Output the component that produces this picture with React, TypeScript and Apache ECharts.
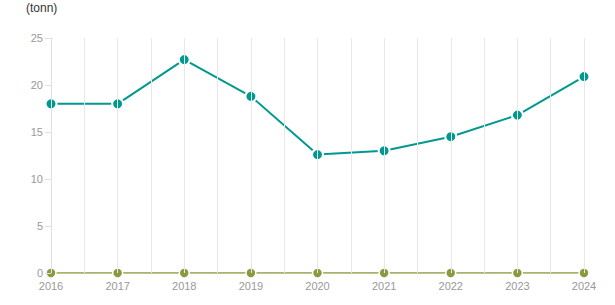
import React, { useEffect, useRef } from "react";
import * as echarts from "echarts";

const years = [2016, 2017, 2018, 2019, 2020, 2021, 2022, 2023, 2024];
const mainValues = [18.0, 18.0, 22.7, 18.8, 12.6, 13.0, 14.5, 16.8, 20.9];
const zeroValues = [0, 0, 0, 0, 0, 0, 0, 0, 0];
const yTicks = [0, 5, 10, 15, 20, 25];
const unitLabel = "(tonn)";

export default function App() {
  const ref = useRef<HTMLDivElement>(null);
  useEffect(() => {
    if (!ref.current) return;
    const chart = echarts.init(ref.current, undefined, { renderer: "svg" });
    chart.setOption({
      animation: false,
      textStyle: { fontFamily: "Liberation Sans, Arial, sans-serif" },
      grid: { left: 51, right: 31, top: 38, bottom: 32 },
      graphic: [
        {
          type: "text",
          left: 26,
          top: 2,
          style: { text: unitLabel, fill: "#333", fontSize: 12, fontFamily: "Liberation Sans, Arial, sans-serif" },
        },
      ],
      xAxis: {
        type: "value",
        min: years[0],
        max: years[years.length - 1],
        interval: 0.5,
        z: 5,
        axisLine: { show: false },
        axisTick: { show: false },
        axisLabel: {
          color: "#999",
          fontSize: 11,
          margin: 7,
          formatter: (v: number) => (Number.isInteger(v) ? String(v) : ""),
        },
        splitLine: { show: true, lineStyle: { color: "#e8e8e8", width: 1 } },
      },
      yAxis: {
        type: "value",
        min: yTicks[0],
        max: yTicks[yTicks.length - 1],
        interval: 5,
        z: 5,
        axisLine: { show: true, lineStyle: { color: "#e0e0e0" } },
        axisTick: { show: true, length: 6, lineStyle: { color: "#e0e0e0" } },
        axisLabel: { color: "#999", fontSize: 11, margin: 8 },
        splitLine: { show: false },
      },
      series: [
        {
          type: "line",
          data: years.map((y, i) => [y, zeroValues[i]]),
          symbol: "circle",
          symbolSize: 10,
          lineStyle: { color: "#8a9a3e", width: 1.5 },
          itemStyle: { color: "#8a9a3e", borderColor: "#fff", borderWidth: 1.5 },
          z: 2,
        },
        {
          type: "line",
          data: years.map((y, i) => [y, mainValues[i]]),
          symbol: "circle",
          symbolSize: 11,
          lineStyle: { color: "#00998f", width: 2 },
          itemStyle: { color: "#00998f", borderColor: "#fff", borderWidth: 2 },
          z: 3,
        },
      ],
    });
    return () => chart.dispose();
  }, []);
  return (
    <div
      ref={ref}
      style={{ position: "absolute", left: 0, top: 0, width: 615, height: 305 }}
    />
  );
}
